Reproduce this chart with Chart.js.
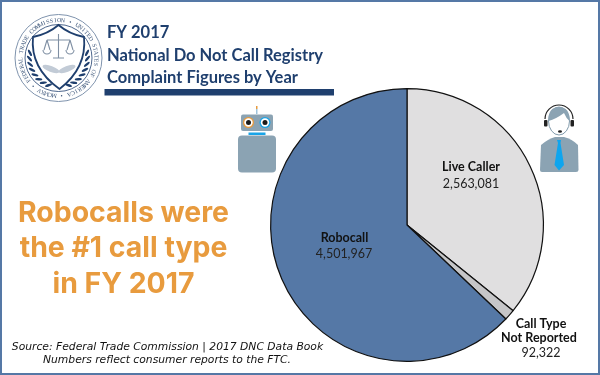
<!DOCTYPE html>
<html lang="en">
<head>
<meta charset="UTF-8" />
<title>FY 2017 National Do Not Call Registry Complaint Figures</title>
<style>
  html, body { margin: 0; padding: 0; background: #fff; overflow: hidden; }
  #wrap { position: relative; width: 600px; height: 375px; }
</style>
</head>
<body>
<div id="wrap"><canvas id="myChart" width="600" height="375"></canvas></div>

<script src="https://cdn.jsdelivr.net/npm/chart.js"></script>
<script>
  // data
  const callTypes = ['Live Caller', 'Call Type Not Reported', 'Robocall'];
  const complaints = [2563081, 92322, 4501967];
  const titleLines = ['FY 2017', 'National Do Not Call Registry', 'Complaint Figures by Year'];
  const calloutLines = ['Robocalls were', 'the #1 call type', 'in FY 2017'];
  const sourceLines = ['Source: Federal Trade Commission | 2017 DNC Data Book', 'Numbers reflect consumer reports to the FTC.'];
  const sealText = 'FEDERAL TRADE COMMISSION \u2022 UNITED STATES OF AMERICA \u2022 MCMXV \u2022 ';

  const BLUE = '#5578a6', NAVY = '#1f3f6e', ORANGE = '#e89b3e', STEEL = '#8ba3b3', CYAN = '#0ea5ee';
  const LABEL_FONT = 'Lato, "Open Sans", sans-serif';

  function roundBox(c, x, y, w, h, r, fill) {
    c.fillStyle = fill;
    c.beginPath();
    c.roundRect(x, y, w, h, r);
    c.fill();
  }

  function drawSeal(c) {
    const cx = 58.5, cy = 58;
    c.save();
    c.strokeStyle = '#7f93ad'; c.lineWidth = 1;
    c.beginPath(); c.arc(cx, cy, 43.5, 0, Math.PI * 2); c.stroke();
    c.strokeStyle = NAVY; c.lineWidth = 0.8;
    c.beginPath(); c.arc(cx, cy, 33.5, 0, Math.PI * 2); c.stroke();

    // ring text, clockwise from lower left
    c.fillStyle = '#3a5478'; c.font = '6px "Liberation Serif", serif';
    c.textAlign = 'center'; c.textBaseline = 'alphabetic';
    const chars = Array.from(sealText);
    chars.forEach((ch, i) => {
      const a = 2.5 + (i / chars.length) * Math.PI * 2;
      c.save();
      c.translate(cx + Math.cos(a) * 36, cy + Math.sin(a) * 36);
      c.rotate(a + Math.PI / 2);
      c.fillText(ch, 0, 0);
      c.restore();
    });

    // laurel leaves
    c.fillStyle = NAVY;
    [-1, 1].forEach((s) => {
      for (let i = 0; i < 8; i++) {
        const a = Math.PI / 2 + s * (0.35 + i * 0.2);
        c.save();
        c.translate(cx + Math.cos(a) * 29, cy + Math.sin(a) * 29);
        c.rotate(a + s * 0.9);
        c.beginPath(); c.ellipse(0, 0, 3.6, 1.2, 0, 0, Math.PI * 2); c.fill();
        c.restore();
      }
    });

    // shield
    c.fillStyle = '#fff'; c.strokeStyle = NAVY; c.lineWidth = 1.8;
    c.beginPath();
    c.moveTo(33, 37);
    c.quadraticCurveTo(48, 34, 58.5, 25);
    c.quadraticCurveTo(69, 34, 84, 37);
    c.quadraticCurveTo(87, 68, 59.5, 89);
    c.quadraticCurveTo(30, 68, 33, 37);
    c.closePath(); c.fill(); c.stroke();

    // scales
    c.strokeStyle = '#7f8fa3'; c.lineWidth = 1.1;
    c.beginPath();
    c.moveTo(58.5, 34); c.lineTo(58.5, 58);
    c.moveTo(47, 40); c.lineTo(70, 40);
    c.moveTo(47, 40); c.lineTo(44, 50); c.moveTo(47, 40); c.lineTo(50, 50);
    c.moveTo(70, 40); c.lineTo(67, 50); c.moveTo(70, 40); c.lineTo(73, 50);
    c.moveTo(53, 58); c.lineTo(64, 58);
    c.stroke();
    c.beginPath(); c.arc(47, 50, 4, 0, Math.PI); c.stroke();
    c.beginPath(); c.arc(70, 50, 4, 0, Math.PI); c.stroke();
    // wings
    c.fillStyle = '#c2cbd6';
    c.beginPath(); c.ellipse(51, 69, 9, 3, 0.35, 0, Math.PI * 2); c.fill();
    c.beginPath(); c.ellipse(67, 69, 9, 3, -0.35, 0, Math.PI * 2); c.fill();
    c.restore();
  }

  function drawRobot(c) {
    c.save();
    c.fillStyle = ORANGE; c.fillRect(256, 106, 1.5, 3);
    c.fillStyle = '#9fc4dc'; c.fillRect(256, 109, 1.5, 5);
    roundBox(c, 241, 114.5, 32, 16.5, 2, STEEL);
    [[248.5, ORANGE], [265, '#19a4e8']].forEach(([x, ring]) => {
      c.fillStyle = ring; c.beginPath(); c.arc(x, 122.5, 5.5, 0, Math.PI * 2); c.fill();
      c.fillStyle = '#fff'; c.beginPath(); c.arc(x, 122.5, 4.2, 0, Math.PI * 2); c.fill();
      c.fillStyle = '#1a1a1a'; c.beginPath(); c.arc(x, 122.5, 2.5, 0, Math.PI * 2); c.fill();
    });
    c.fillStyle = '#19a4e8'; c.fillRect(248.5, 132.5, 17, 2.5);
    roundBox(c, 238, 135.5, 38, 37, 4, STEEL);
    c.restore();
  }

  function drawAgent(c) {
    c.save();
    // shoulders and body
    c.fillStyle = STEEL;
    c.beginPath();
    c.moveTo(540, 170);
    c.lineTo(541, 145);
    c.quadraticCurveTo(548, 139, 555, 137);
    c.lineTo(564, 137);
    c.quadraticCurveTo(572, 139, 578, 145);
    c.lineTo(578.5, 170);
    c.quadraticCurveTo(578.5, 172, 576, 172);
    c.lineTo(542, 172);
    c.quadraticCurveTo(540, 172, 540, 170);
    c.closePath(); c.fill();
    // head
    c.fillStyle = '#fff'; c.strokeStyle = '#7f99aa'; c.lineWidth = 1;
    c.beginPath(); c.ellipse(559, 121, 10.5, 14, 0, 0, Math.PI * 2); c.fill(); c.stroke();
    // hair
    c.fillStyle = STEEL;
    c.beginPath();
    c.moveTo(548.5, 121);
    c.quadraticCurveTo(548, 107, 559, 107);
    c.quadraticCurveTo(570, 107, 569.5, 121);
    c.quadraticCurveTo(566, 118, 564, 113);
    c.quadraticCurveTo(556, 119, 548.5, 121);
    c.closePath(); c.fill();
    // headset
    c.strokeStyle = '#222'; c.lineWidth = 1.2;
    c.beginPath(); c.arc(559, 119, 14, Math.PI, 0); c.stroke();
    c.fillStyle = '#222';
    roundBox(c, 544, 120, 3.5, 6.5, 1, '#222');
    roundBox(c, 570.5, 120, 3.5, 6.5, 1, '#222');
    c.beginPath(); c.ellipse(560, 131.5, 2, 1.2, 0, 0, Math.PI * 2); c.fill();
    // tie
    c.fillStyle = CYAN;
    c.beginPath();
    c.moveTo(557, 140); c.lineTo(561, 140); c.lineTo(560.5, 143);
    c.lineTo(564, 165); c.lineTo(559, 170.5); c.lineTo(554.5, 165); c.lineTo(558, 143);
    c.closePath(); c.fill();
    c.restore();
  }

  function drawText(c, fmt) {
    c.save();
    c.textBaseline = 'alphabetic';

    // header
    c.fillStyle = NAVY; c.textAlign = 'left';
    c.font = 'bold 16.5px ' + LABEL_FONT;
    [38, 61, 83].forEach((y, i) => c.fillText(titleLines[i], 107, y));
    c.fillRect(104.5, 89, 229.5, 6.5);

    // callout
    c.fillStyle = ORANGE; c.textAlign = 'center';
    c.font = 'bold 28.4px Inter, "Open Sans", sans-serif';
    [222, 257, 293].forEach((y, i) => c.fillText(calloutLines[i], 123.5, y));

    // source note
    c.fillStyle = '#111';
    c.font = 'italic 10.75px "DejaVu Sans", sans-serif';
    c.fillText(sourceLines[0], 167.5, 350);
    c.fillText(sourceLines[1], 167, 363);

    // slice labels
    c.fillStyle = '#111';
    c.font = 'bold 12.5px ' + LABEL_FONT;
    c.fillText(callTypes[0], 471, 171);
    c.fillText(callTypes[2], 344.5, 242);
    c.fillText('Call Type', 541, 328);
    c.fillText('Not Reported', 539, 342);
    c.fillStyle = '#222';
    c.font = '12.5px ' + LABEL_FONT;
    c.fillText(fmt(complaints[0]), 471, 188);
    c.fillText(fmt(complaints[2]), 344, 258);
    c.fillText(fmt(complaints[1]), 541, 357);
    c.restore();
  }

  const decorations = {
    id: 'decorations',
    afterDraw(chart) {
      const c = chart.ctx;
      const fmt = (v) => v.toLocaleString('en-US');
      drawSeal(c);
      drawRobot(c);
      drawAgent(c);
      drawText(c, fmt);
      // page frame
      c.save();
      c.strokeStyle = BLUE; c.lineWidth = 2;
      c.strokeRect(1, 1, 598, 373);
      c.restore();
    }
  };

  var context = document.getElementById('myChart').getContext('2d');
  var myChart = new Chart(context, {
    type: 'pie',
    data: {
      labels: callTypes,
      datasets: [{
        data: complaints,
        backgroundColor: ['#e0dfe0', '#c6c6c8', BLUE],
        borderColor: '#111',
        borderWidth: 1.2
      }]
    },
    options: {
      responsive: false,
      animation: false,
      layout: { padding: { left: 270, right: 56, top: 88, bottom: 13 } },
      plugins: {
        legend: { display: false },
        tooltip: { enabled: false }
      }
    },
    plugins: [decorations]
  });
</script>
</body>
</html>
